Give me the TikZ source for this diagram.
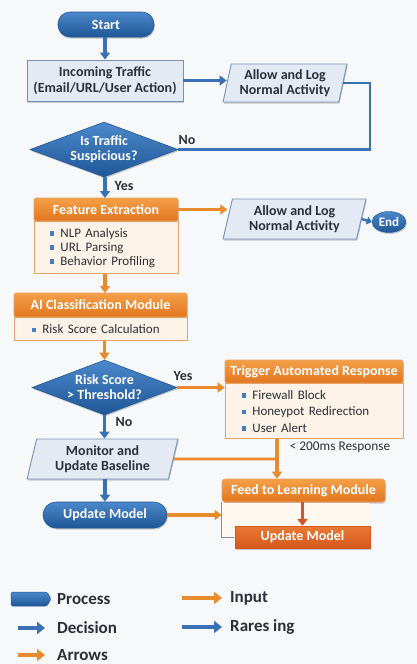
\documentclass[tikz,border=0pt]{standalone}
\usepackage{fontspec}
\setmainfont{Carlito}
\usetikzlibrary{shapes.geometric,shapes.symbols,arrows.meta,shadows,calc}
\definecolor{bluetop}{HTML}{4C88CC}
\definecolor{bluebot}{HTML}{1F5796}
\definecolor{blueln}{HTML}{3A70B6}
\definecolor{boxfill}{HTML}{E3EAF3}
\definecolor{boxline}{HTML}{7890B2}
\definecolor{orng}{HTML}{E98A2C}
\definecolor{orntop}{HTML}{F4A048}
\definecolor{ornbot}{HTML}{E2761F}
\definecolor{ordktop}{HTML}{EA7A35}
\definecolor{ordkbot}{HTML}{D4581C}
\definecolor{ordk}{HTML}{D4561C}
\definecolor{cream}{HTML}{FDF3E8}
\definecolor{creamln}{HTML}{E6A264}
\definecolor{txt}{HTML}{2B2F38}
\definecolor{bg}{HTML}{F7F8FA}
\definecolor{bulc}{HTML}{4A7DC0}
\newcommand{\bul}{\textcolor{bulc}{\rule[0.12em]{0.34em}{0.34em}}}
\tikzset{
  base/.style={font=\fontsize{14}{15.5}\selectfont\bfseries, text=txt, inner sep=0pt, align=center},
  shad/.style={drop shadow={shadow xshift=0.8pt, shadow yshift=-1.5pt, opacity=0.2, fill=black}},
  pill/.style={base, shad, rectangle, rounded corners=12pt, top color=bluetop, bottom color=bluebot, draw=bluebot, line width=0.6pt, text=white},
  inbox/.style={base, shad, rectangle, fill=boxfill, draw=boxline, line width=0.9pt},
  para/.style={base, shad, trapezium, trapezium left angle=76, trapezium right angle=104, trapezium stretches=true, fill=boxfill, draw=boxline, line width=0.9pt},
  dia/.style={base, shad, diamond, shape aspect=2.75, top color=bluetop, bottom color=bluebot, draw=bluebot, line width=0.6pt, text=white, font=\fontsize{14}{15}\selectfont\bfseries},
  hdr/.style={base, shad, rectangle, rounded corners=1.5pt, top color=orntop, bottom color=ornbot, draw=creamln, line width=0.6pt, text=white},
  bodybox/.style={font=\fontsize{13}{14}\selectfont, text=txt, rectangle, fill=cream, draw=creamln, line width=0.9pt, inner xsep=0pt, inner ysep=0pt, align=left, anchor=north},
  barrow/.style={draw=blueln, line width=3.2pt, -{Triangle[length=7pt,width=10pt]}},
  oarrow/.style={draw=orng, line width=3.2pt, -{Triangle[length=7pt,width=10pt]}},
  oline/.style={draw=orng, line width=2.6pt},
  bline/.style={draw=blueln, line width=2.8pt},
  lbl/.style={font=\fontsize{14}{15}\selectfont\bfseries, text=txt, inner sep=0pt},
  legtxt/.style={font=\fontsize{17}{18}\selectfont\bfseries, text=txt, inner sep=0pt, anchor=west},
  legb/.style={draw=blueln, line width=4pt, -{Triangle[length=8pt,width=12pt]}},
  lego/.style={draw=orng, line width=4pt, -{Triangle[length=8pt,width=12pt]}},
}
\begin{document}
\begin{tikzpicture}[x=1pt,y=-1pt]
\useasboundingbox (0,0) rectangle (417,664);
\fill[bg] (0,0) rectangle (417,664);

% top part
\node[pill, minimum width=96pt, minimum height=25pt] (start) at (106,24.5) {Start};
\node[inbox, minimum width=156pt, minimum height=41pt] (in) at (105,80.5) {Incoming Traffic\\(Email/URL/User Action)};
\node[para, minimum width=124pt, minimum height=38pt] (allow1) at (285,83) {Allow and Log\\Normal Activity};
\node[dia, minimum width=148pt, minimum height=55pt] (d1) at (104,149.5) {Is Traffic\\Suspicious?};
\coordinate (c1) at (370,149.5);

\draw[barrow] (start.south -| in.north) -- (in.north);
\draw[barrow] (in.east) -- (in.east -| allow1.west);
\draw[bline] (allow1.east) -| (c1) -- (d1.east);
\node[lbl] (no1) at (187,140) {No};
\draw[barrow] (d1.south -| 105,0) -- (105,198);
\node[lbl] (yes1) at (124,186) {Yes};

% feature extraction
\node[hdr, minimum width=144pt, minimum height=23pt] (fe) at (106,209.5) {Feature Extraction};
\node[bodybox, text width=144pt, minimum height=52pt] (febody) at (fe.south) {\hspace*{16pt}\bul\hspace{6pt}NLP Analysis\\\hspace*{16pt}\bul\hspace{6pt}URL Parsing\\\hspace*{16pt}\bul\hspace{6pt}Behavior Profiling};
\node[para, minimum width=143pt, minimum height=40pt] (allow2) at (294.5,219) {Allow and Log\\Normal Activity};
\node[base, shad, ellipse, minimum width=34pt, minimum height=21pt, top color=bluetop, bottom color=bluebot, draw=bluebot, text=white, font=\fontsize{13}{14}\selectfont\bfseries] (end) at (389,222) {End};
\draw[oarrow] (fe.east) -- (fe.east -| allow2.west);
\draw[draw=blueln, line width=2.4pt, -{Triangle[length=5pt,width=8pt]}] (allow2.east) -- (end.west);

% AI module
\node[hdr, minimum width=173pt, minimum height=24pt] (ai) at (100.5,305) {AI Classification Module};
\node[bodybox, text width=173pt, minimum height=23pt] (aibody) at (ai.south) {\hspace*{18pt}\bul\hspace{6pt}Risk Score Calculation};
\draw[oarrow] (febody.south -| 105,0) -- (105,293);

\node[dia, minimum width=145pt, minimum height=55pt] (d2) at (104.5,387.5) {Risk Score\\> Threshold?};
\draw[oarrow] (aibody.south -| d2.north) -- (d2.north);

% trigger
\node[hdr, minimum width=178pt, minimum height=23pt] (trig) at (314,371.5) {Trigger Automated Response};
\node[bodybox, text width=178pt, minimum height=55pt, font=\fontsize{13}{16.5}\selectfont] (trigbody) at (trig.south) {\hspace*{17pt}\bul\hspace{6pt}Firewall Block\\\hspace*{17pt}\bul\hspace{6pt}Honeypot Redirection\\\hspace*{17pt}\bul\hspace{6pt}User Alert};
\draw[oarrow] (d2.east) -- (d2.east -| trig.west);
\node[lbl] (yes2) at (183,376) {Yes};

% monitor
\node[para, minimum width=151pt, minimum height=40pt] (mon) at (102.5,459) {Monitor and\\Update Baseline};
\draw[barrow] (d2.south) -- (d2.south |- mon.north);
\node[lbl] (no2) at (124,422) {No};

\node[pill, minimum width=124pt, minimum height=26pt, rounded corners=13pt] (upd) at (105,515) {Update Model};
\draw[barrow] (mon.south -| upd.north) -- (upd.north);

% feed
\node[hdr, minimum width=163pt, minimum height=23pt, rounded corners=3pt] (feed) at (303.5,490.5) {Feed to Learning Module};
\node[rectangle, fill=cream!60!white, draw=none, minimum width=147pt, minimum height=35pt, inner sep=0pt, anchor=north west] (feedbody) at (feed.south west) {};
\draw[draw=black!45, line width=0.8pt] (feedbody.north west) -- (feedbody.south west) -- ++(12,0);
\node[base, shad, rectangle, minimum width=135pt, minimum height=22pt, top color=ordktop, bottom color=ordkbot, draw=ordkbot, text=white] (upd2) at (302.5,537) {Update Model};
\draw[draw=ordk, line width=3pt, -{Triangle[length=7pt,width=10pt]}] (feed.south -| upd2.north) -- (upd2.north);

\coordinate (j) at (277,459);
\draw[oline] (mon.east) -- (j);
\draw[oarrow] (trigbody.south -| j) -- (j |- feed.north);
\node[font=\fontsize{13.3}{14}\selectfont, text=txt, inner sep=0pt] (resp) at (340,447) {< 200ms Response};
\draw[oarrow] (upd.east) -- (upd.east -| feedbody.west);

% legend
\node[signal, signal to=east, signal pointer angle=120, minimum width=40pt, minimum height=14pt, inner sep=0pt, top color=bluetop, bottom color=bluebot, draw=bluebot, line width=0.5pt, rounded corners=1.5pt] (lgproc) at (29,599) {};
\node[legtxt] (ltproc) at (57,599) {Process};
\node[legtxt] (ltdec) at (57,628) {Decision};
\node[legtxt] (ltarr) at (57,655) {Arrows};
\node[legtxt] (ltin) at (230,598) {Input};
\node[legtxt] (ltrar) at (230,627) {Rares ing};
\draw[legb] ($(ltdec.west)+(-39,0)$) -- ($(ltdec.west)+(-12,0)$);
\draw[lego] ($(ltarr.west)+(-39,0)$) -- ($(ltarr.west)+(-12,0)$);
\draw[lego] ($(ltin.west)+(-48,0)$) -- ($(ltin.west)+(-8,0)$);
\draw[legb] ($(ltrar.west)+(-48,0)$) -- ($(ltrar.west)+(-8,0)$);
\end{tikzpicture}
\end{document}
